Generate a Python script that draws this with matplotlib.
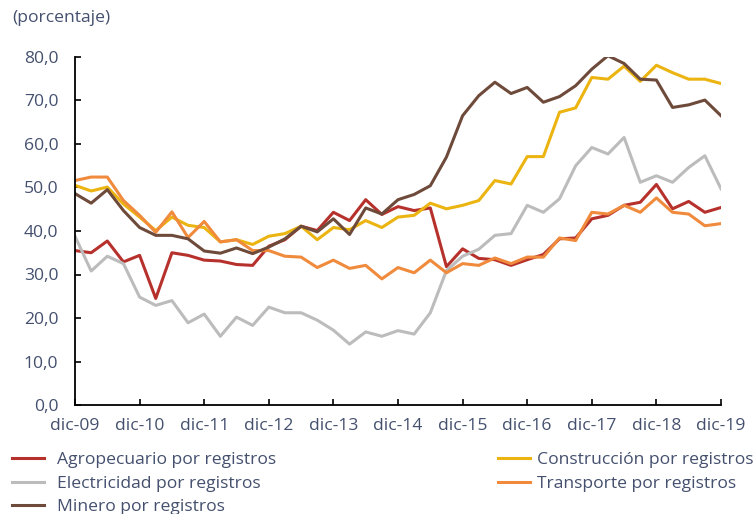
import numpy as np
import matplotlib
matplotlib.use("Agg")
import matplotlib.pyplot as plt

# quarterly series, dic-09 .. dic-19 (41 points)
x_labels = ["dic-09", "dic-10", "dic-11", "dic-12", "dic-13", "dic-14",
            "dic-15", "dic-16", "dic-17", "dic-18", "dic-19"]

agro = [35.5, 35.0, 37.7, 32.9, 34.4, 24.5, 35.0, 34.4, 33.3, 33.1, 32.3,
        32.1, 36.5, 38.0, 41.1, 40.1, 44.3, 42.4, 47.2, 43.8, 45.6, 44.7,
        45.3, 31.8, 35.9, 33.7, 33.4, 32.1, 33.4, 34.6, 38.2, 38.4, 42.8,
        43.6, 45.9, 46.6, 50.7, 45.1, 46.8, 44.3, 45.4]
elec = [38.8, 30.8, 34.2, 32.5, 24.8, 22.9, 24.0, 18.9, 20.9, 15.8, 20.2,
        18.3, 22.5, 21.2, 21.2, 19.5, 17.2, 14.0, 16.8, 15.8, 17.1, 16.3,
        21.2, 30.9, 34.2, 35.8, 39.0, 39.4, 45.9, 44.3, 47.4, 55.0, 59.2,
        57.7, 61.5, 51.2, 52.7, 51.2, 54.6, 57.3, 49.7]
minero = [48.6, 46.4, 49.5, 44.7, 40.8, 39.0, 39.0, 38.2, 35.4, 34.9, 36.1,
          34.8, 36.3, 38.2, 41.1, 39.8, 42.8, 39.2, 45.3, 43.9, 47.2, 48.4,
          50.4, 57.0, 66.5, 71.1, 74.2, 71.6, 73.0, 69.6, 70.9, 73.4, 77.2,
          80.3, 78.5, 74.9, 74.7, 68.4, 69.0, 70.1, 66.5]
constr = [50.5, 49.2, 50.1, 46.2, 43.2, 40.1, 43.2, 41.3, 40.8, 37.5, 38.0,
          36.9, 38.8, 39.4, 41.1, 38.0, 40.8, 40.3, 42.4, 40.8, 43.2, 43.6,
          46.4, 45.1, 45.9, 47.0, 51.6, 50.8, 57.1, 57.1, 67.3, 68.3, 75.3,
          74.9, 77.9, 74.4, 78.1, 76.4, 74.9, 74.9, 73.9]
transp = [51.6, 52.4, 52.4, 47.0, 43.6, 39.7, 44.4, 38.5, 42.2, 37.5, 38.0,
          35.5, 35.5, 34.2, 34.0, 31.6, 33.3, 31.4, 32.1, 29.0, 31.6, 30.4,
          33.3, 30.4, 32.5, 32.1, 33.8, 32.5, 34.0, 34.0, 38.4, 37.8, 44.3,
          43.9, 45.9, 44.3, 47.6, 44.3, 43.9, 41.2, 41.7]

plt.rcParams['font.family'] = ['Open Sans', 'DejaVu Sans']
txt_col = '#44506e'
fs = 12.6

fig = plt.figure(figsize=(7.56, 5.14), dpi=100)
ax = fig.add_axes([75/756, 1 - 405/514, (721 - 75)/756, (405 - 57)/514])

q = np.arange(len(agro))
lw = 2.2
l_agro, = ax.plot(q, agro, color='#b7312c', lw=lw, label='Agropecuario por registros')
l_con, = ax.plot(q, constr, color='#ebb411', lw=lw, label='Construcción por registros')
l_ele, = ax.plot(q, elec, color='#bcbcbc', lw=lw, label='Electricidad por registros')
l_tra, = ax.plot(q, transp, color='#f08a3c', lw=lw, label='Transporte por registros')
l_min, = ax.plot(q, minero, color='#6e4a3a', lw=lw, label='Minero por registros')

ax.set_xlim(0, 40)
ax.set_ylim(0, 80)
ax.set_xticks(np.arange(0, 41, 4))
ax.set_xticklabels(x_labels)
ax.set_yticks(np.arange(0, 81, 10))
ax.set_yticklabels([f"{v:.1f}".replace('.', ',') for v in np.arange(0, 81, 10)])
ax.tick_params(direction='in', length=4, width=1.2, colors='black',
               labelsize=fs, labelcolor=txt_col)
ax.tick_params(axis='y', pad=12)
ax.tick_params(axis='x', pad=9)
for s in ['top', 'right']:
    ax.spines[s].set_visible(False)
for s in ['left', 'bottom']:
    ax.spines[s].set_linewidth(1.3)

fig.text(12/756, 1 - 18/514, "(porcentaje)", fontsize=fs, color=txt_col,
         va='center', ha='left')

leg_kw = dict(loc='upper left', frameon=False, fontsize=fs, handlelength=1.85,
              labelspacing=0.42, borderpad=0, borderaxespad=0,
              labelcolor=txt_col)
leg1 = fig.legend(handles=[l_agro, l_ele, l_min],
                  bbox_to_anchor=(12/756, 1 - 452/514),
                  handletextpad=0.73, **leg_kw)
leg2 = fig.legend(handles=[l_con, l_tra],
                  bbox_to_anchor=(498/756, 1 - 452/514),
                  handletextpad=0.4, **leg_kw)

fig.savefig("out.png", dpi=100)
